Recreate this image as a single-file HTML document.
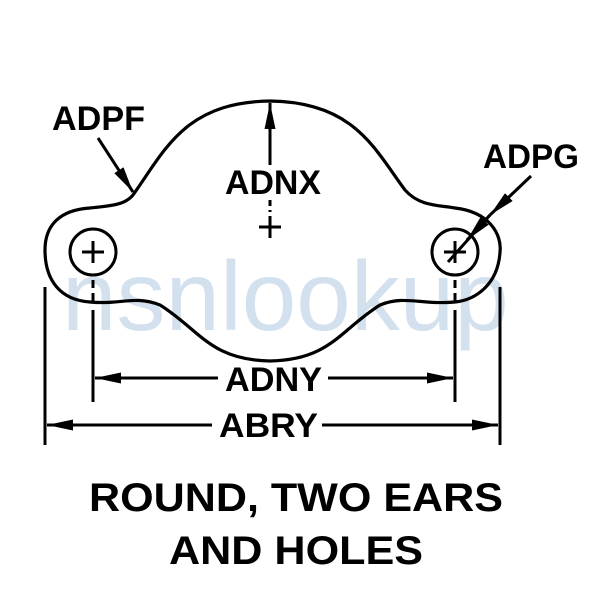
<!DOCTYPE html>
<html><head><meta charset="utf-8"><style>
html,body{margin:0;padding:0;background:#fff;}
svg{display:block;}
text{font-family:"Liberation Sans",Arial,sans-serif;font-weight:bold;fill:#000;}
</style></head><body>
<svg width="600" height="600" viewBox="0 0 600 600" xmlns="http://www.w3.org/2000/svg">
<defs>
<marker id="al" viewBox="0 0 26 11" refX="26" refY="5.5" markerWidth="26" markerHeight="11" markerUnits="userSpaceOnUse" orient="auto"><path d="M0,0 L26,5.5 L0,11 z" fill="#000"/></marker>
</defs>
<text x="62" y="330" style="font-weight:normal;font-size:98px;fill:#a9c2dc;opacity:0.5">nsnlookup</text>
<path d="M133,195 C165,150 185,102 270,101 C355,102 375,150 405,190 C420,207 440,205 455,208 C490,212 502,235 500,252 C498,285 475,300 455,302 C420,305 405,295 380,305 C340,330 330,360 270,361 C210,360 200,330 160,305 C135,295 120,305 90,302 C60,300 45,280 45,250 C45,225 60,210 90,208 C110,206 125,205 133,195 Z" fill="none" stroke="#000" stroke-width="3.2"/>
<circle cx="93" cy="252" r="23" fill="none" stroke="#000" stroke-width="3"/>
<circle cx="455" cy="252" r="23" fill="none" stroke="#000" stroke-width="3"/>
<g stroke="#000" stroke-width="3">
<line x1="82" y1="252" x2="104" y2="252"/><line x1="93" y1="241" x2="93" y2="263"/>
<line x1="444" y1="252" x2="466" y2="252"/><line x1="455" y1="241" x2="455" y2="263"/>
<line x1="259" y1="227" x2="281" y2="227"/><line x1="270" y1="216" x2="270" y2="238"/>
<line x1="270" y1="200" x2="270" y2="212" stroke-dasharray="6,4"/>
<line x1="270" y1="165" x2="270" y2="103" marker-end="url(#al)"/>
<line x1="93" y1="280" x2="93" y2="302" stroke-dasharray="8,5"/>
<line x1="93" y1="310" x2="93" y2="402"/>
<line x1="455" y1="280" x2="455" y2="302" stroke-dasharray="8,5"/>
<line x1="455" y1="310" x2="455" y2="402"/>
<line x1="45" y1="287" x2="45" y2="445"/>
<line x1="500" y1="287" x2="500" y2="445"/>
<line x1="218" y1="378" x2="95" y2="378" marker-end="url(#al)"/>
<line x1="328" y1="378" x2="453" y2="378" marker-end="url(#al)"/>
<line x1="212" y1="425" x2="47" y2="425" marker-end="url(#al)"/>
<line x1="322" y1="425" x2="498" y2="425" marker-end="url(#al)"/>
<line x1="98" y1="138" x2="133" y2="192" marker-end="url(#al)"/>
<line x1="531" y1="176" x2="490" y2="215" marker-end="url(#al)"/>
<line x1="490" y1="215" x2="448" y2="262"/>
<line x1="490" y1="215" x2="467" y2="240" marker-end="url(#al)"/>
</g>
<text x="52" y="130" font-size="34" textLength="93" lengthAdjust="spacingAndGlyphs">ADPF</text>
<text x="483" y="168" font-size="34" textLength="96" lengthAdjust="spacingAndGlyphs">ADPG</text>
<text x="225" y="194" font-size="34" textLength="96" lengthAdjust="spacingAndGlyphs">ADNX</text>
<text x="225" y="391" font-size="34" textLength="97" lengthAdjust="spacingAndGlyphs">ADNY</text>
<text x="219" y="437" font-size="34" textLength="99" lengthAdjust="spacingAndGlyphs">ABRY</text>
<text x="89" y="511" font-size="40" textLength="414" lengthAdjust="spacingAndGlyphs">ROUND, TWO EARS</text>
<text x="169" y="564" font-size="40" textLength="254" lengthAdjust="spacingAndGlyphs">AND HOLES</text>
</svg>
</body></html>
